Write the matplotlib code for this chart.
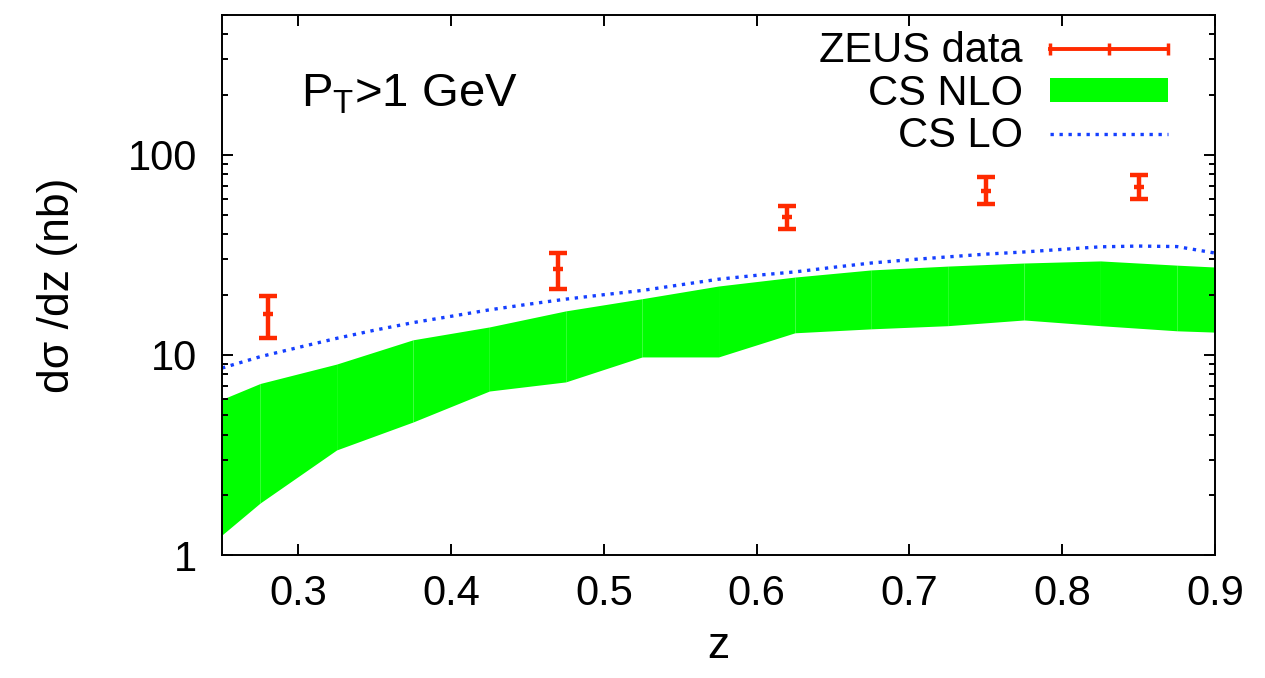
import numpy as np
import matplotlib
matplotlib.use("Agg")
import matplotlib.pyplot as plt
from matplotlib.lines import Line2D
from matplotlib.patches import Patch
from matplotlib.legend_handler import HandlerLine2D

plt.rcParams['font.family'] = ['Liberation Sans', 'DejaVu Sans']
plt.rcParams['mathtext.fontset'] = 'custom'
plt.rcParams['mathtext.rm'] = 'Liberation Sans'

# ZEUS data points
z_data = [0.28, 0.47, 0.62, 0.75, 0.85]
y_data = [16.1, 26.9, 49.1, 66.3, 69.0]
y_data_lo = [12.2, 21.3, 42.8, 56.9, 60.0]
y_data_hi = [19.8, 32.5, 55.6, 77.4, 79.2]

# CS NLO band
z_nlo = [0.25, 0.275, 0.325, 0.375, 0.425, 0.475, 0.525, 0.575,
         0.625, 0.675, 0.725, 0.775, 0.825, 0.875, 0.9]
nlo_upper = [6.0, 7.2, 9.0, 11.9, 13.8, 16.6, 19.1, 22.1,
             24.5, 26.6, 27.8, 28.8, 29.5, 28.1, 27.5]
nlo_lower = [1.26, 1.82, 3.35, 4.62, 6.6, 7.33, 9.77, 9.77,
             12.9, 13.5, 14.0, 14.95, 14.0, 13.2, 13.0]

# CS LO curve
z_lo = [0.25, 0.275, 0.3, 0.325, 0.35, 0.375, 0.4, 0.425, 0.45, 0.475,
        0.5, 0.525, 0.55, 0.575, 0.6, 0.625, 0.65, 0.675, 0.7, 0.725,
        0.75, 0.775, 0.8, 0.825, 0.85, 0.875, 0.9]
lo_vals = [8.6, 9.8, 10.9, 12.1, 13.3, 14.5, 15.6, 16.8, 17.9, 19.0,
           20.0, 21.0, 22.4, 23.9, 25.0, 26.0, 27.4, 28.8, 29.9, 30.9,
           31.9, 32.7, 33.7, 34.7, 35.0, 34.8, 32.3]

red = '#ff2a00'
green = '#00ff00'
blue = '#1540ff'

fig = plt.figure(figsize=(12.65, 6.78), dpi=100)
ax = fig.add_axes([0.1755, 0.1814, 0.785, 0.7965])

# band drawn segment by segment
for i in range(len(z_nlo) - 1):
    ax.fill_between(z_nlo[i:i + 2], nlo_lower[i:i + 2], nlo_upper[i:i + 2],
                    color=green, linewidth=0, zorder=1)

ax.plot(z_lo, lo_vals, color=blue, lw=2.4, linestyle=(0, (1, 1.7)),
        dash_capstyle='butt', zorder=2)

y_data = np.array(y_data)
yerr = [y_data - np.array(y_data_lo), np.array(y_data_hi) - y_data]
ax.errorbar(z_data, y_data, yerr=yerr, fmt='_', color=red, ms=7, mew=3.2,
            elinewidth=3.2, capsize=6.5, capthick=3, zorder=3)

ax.set_yscale('log')
ax.set_xlim(0.25, 0.9)
ax.set_ylim(1, 500)
ax.set_xticks([0.3, 0.4, 0.5, 0.6, 0.7, 0.8, 0.9])
ax.set_xticklabels(['0.3', '0.4', '0.5', '0.6', '0.7', '0.8', '0.9'])
ax.set_yticks([1, 10, 100])
ax.set_yticklabels(['1', '10', '100'])

ax.tick_params(which='both', direction='in', top=True, right=True,
               labelsize=30, width=1.4)
ax.tick_params(axis='x', which='major', length=8, pad=14)
ax.tick_params(axis='y', which='major', length=8, pad=18)
ax.tick_params(axis='y', which='minor', length=4)
ax.tick_params(axis='x', which='minor', bottom=False, top=False)
for s in ax.spines.values():
    s.set_linewidth(1.4)

ax.set_xlabel('z', fontsize=32, labelpad=8)
ax.set_ylabel('d\u03c3 /dz (nb)', fontsize=32, labelpad=36)

ax.text(0.08, 0.83, r'P$_\mathregular{T}$>1 GeV', transform=ax.transAxes,
        fontsize=34, va='baseline', ha='left')

h_data = Line2D([], [], color=red, lw=2.8, marker='|', ms=8, mew=2.5)
h_nlo = Patch(facecolor=green, edgecolor='none')
h_lo = Line2D([], [], color=blue, lw=2.4, linestyle=(0, (1, 1.7)),
              dash_capstyle='butt')
ax.legend([h_data, h_nlo, h_lo], ['ZEUS data', 'CS NLO', 'CS LO'],
          handler_map={h_data: HandlerLine2D(numpoints=3, marker_pad=0)},
          loc='upper right', bbox_to_anchor=(0.9607, 0.985), borderaxespad=0,
          borderpad=0.2, frameon=False, markerfirst=False, fontsize=30,
          handlelength=2.83, handletextpad=0.65, handleheight=0.53,
          labelspacing=0.06)

fig.savefig('out.png', dpi=100)
